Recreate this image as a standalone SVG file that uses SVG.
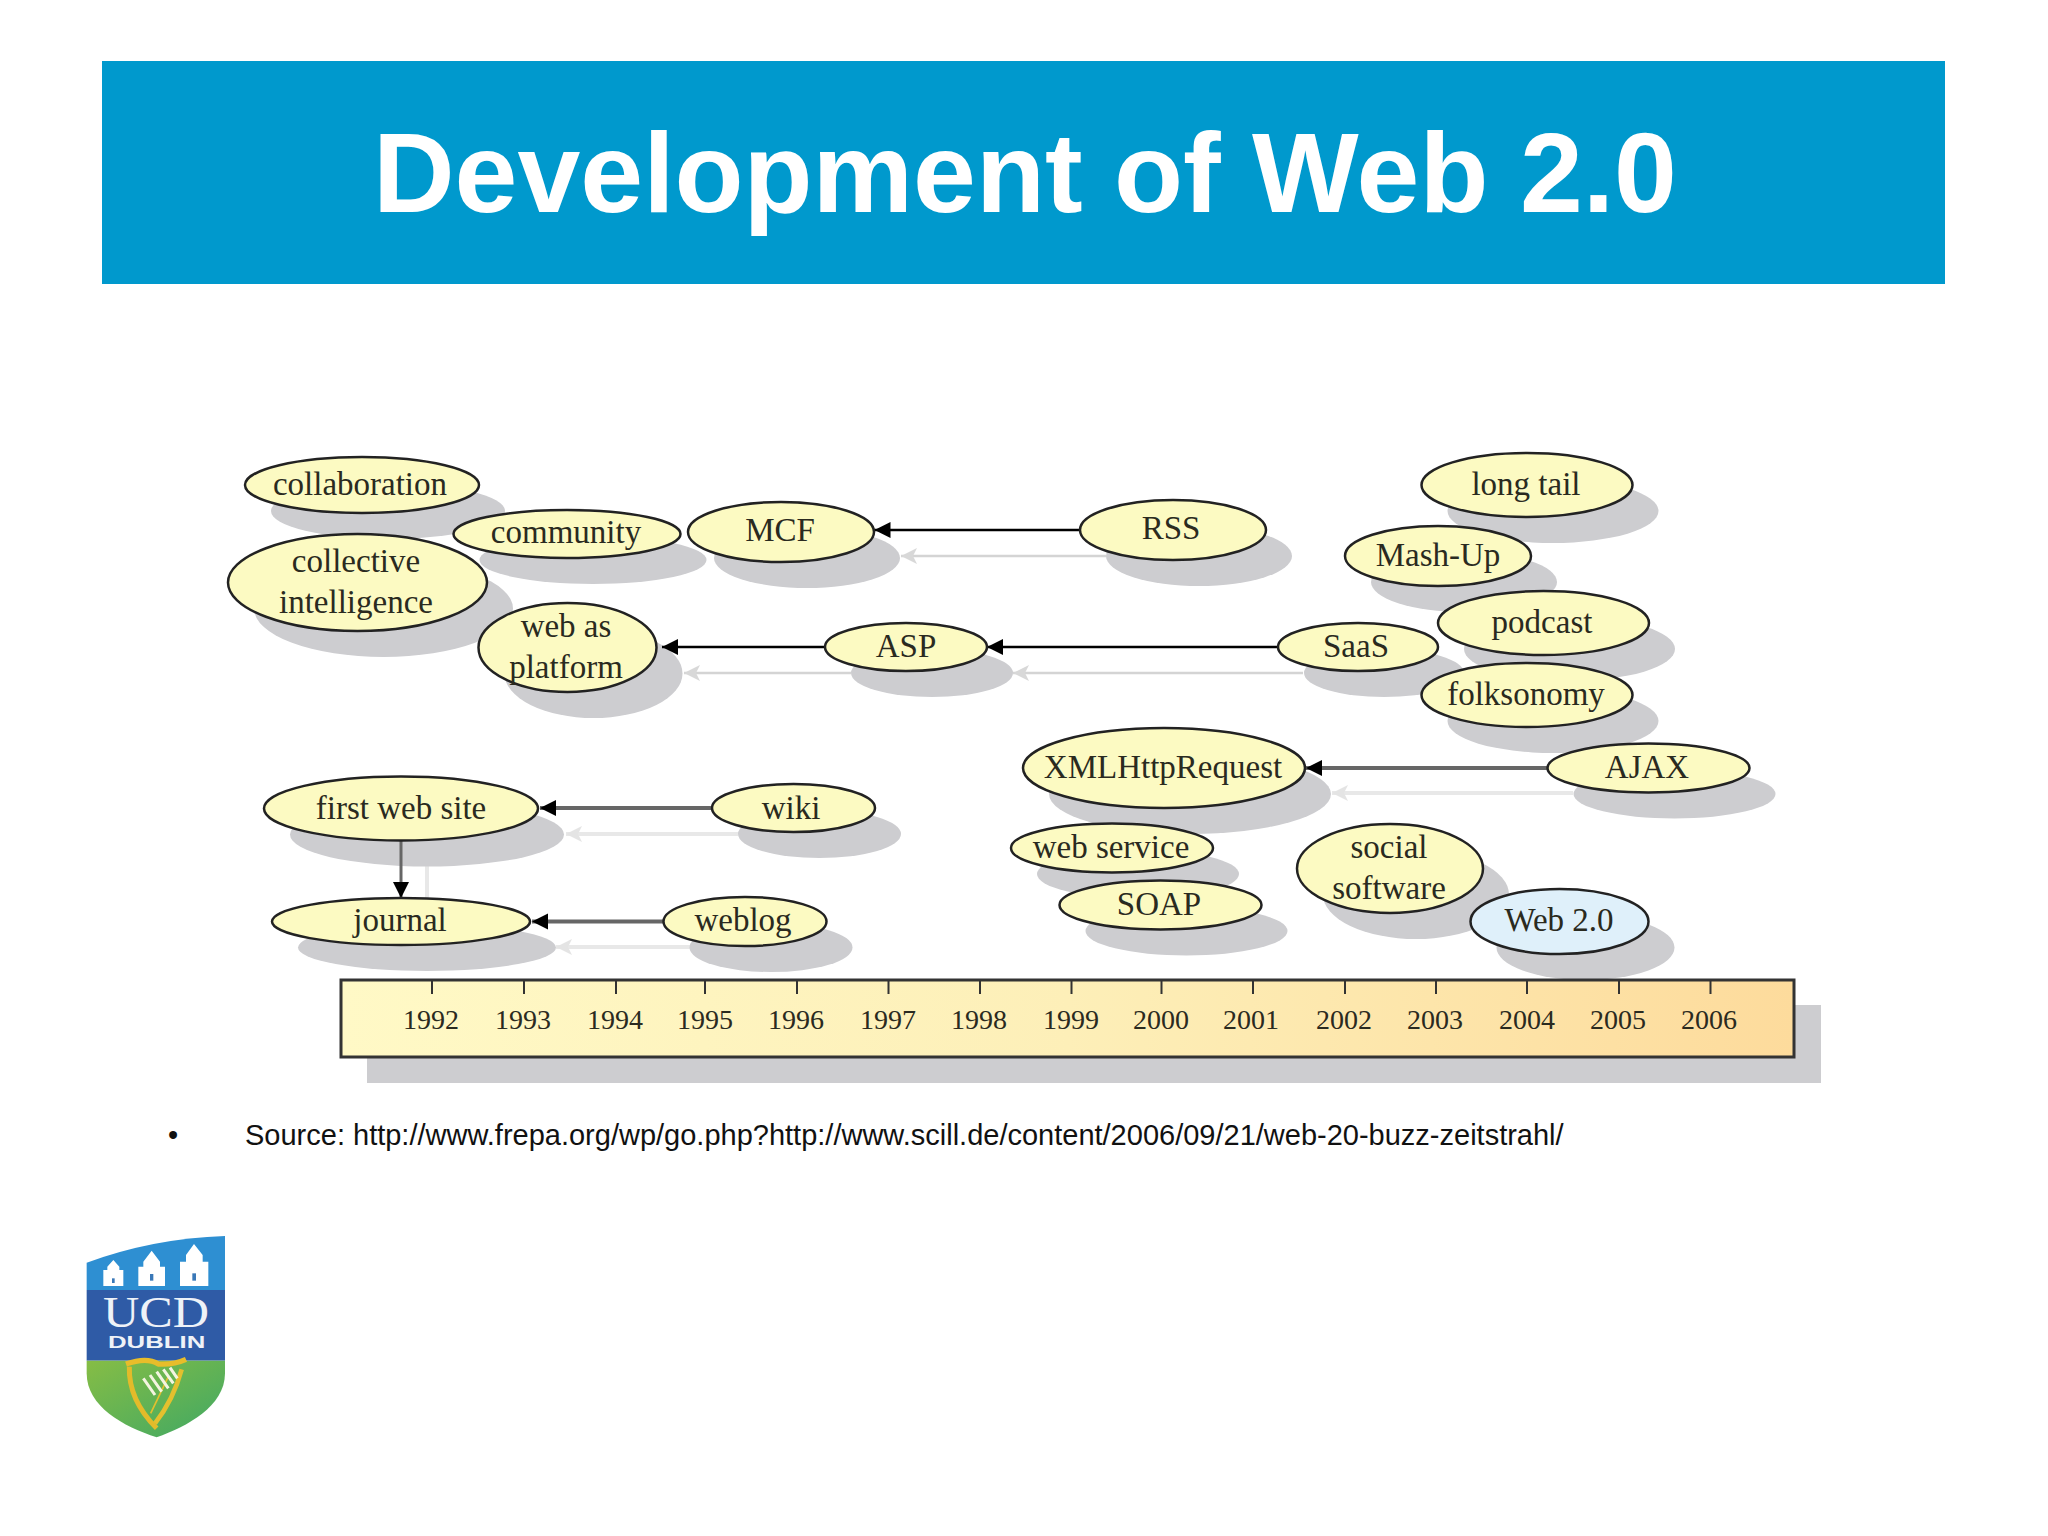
<svg xmlns="http://www.w3.org/2000/svg" width="2048" height="1536" viewBox="0 0 2048 1536">
<style>
.n{fill:#fcfac2;stroke:#222;stroke-width:2.5}
.b{fill:#dff0fa}
.s{fill:#cdcdd0}
.t{font-family:"Liberation Serif","Times New Roman",serif;font-size:33px;fill:#2a2a20;text-anchor:middle}
.y{font-size:28px}
.l{stroke-width:3;fill:none}
.k{stroke:#000;stroke-width:2.5}
.g{stroke:#666;stroke-width:4}
.p{stroke:#d4d4d4;stroke-width:2.5}
.q{stroke:#e8e8e8;stroke-width:4}
</style>
<defs>
<marker id="ak" markerUnits="userSpaceOnUse" markerWidth="18" markerHeight="18" refX="16" refY="9" orient="auto"><path d="M0,1 L16,9 L0,17 Z" fill="#000"/></marker>
<marker id="ap" markerUnits="userSpaceOnUse" markerWidth="18" markerHeight="18" refX="16" refY="9" orient="auto"><path d="M0,1 L16,9 L0,17 L4,9 Z" fill="#d8d8d8"/></marker>
<marker id="aq" markerUnits="userSpaceOnUse" markerWidth="18" markerHeight="18" refX="16" refY="9" orient="auto"><path d="M0,1 L16,9 L0,17 L4,9 Z" fill="#e4e4e4"/></marker>
<linearGradient id="tl" x1="0" x2="1" y1="0" y2="0"><stop offset="0" stop-color="#fff9c6"/><stop offset=".5" stop-color="#fdefb8"/><stop offset="1" stop-color="#fddb9c"/></linearGradient>
<linearGradient id="gr" x1="0" x2="1" y1="0" y2="1"><stop offset="0" stop-color="#86bd45"/><stop offset="1" stop-color="#3fa864"/></linearGradient>
<filter id="soft"><feGaussianBlur stdDeviation="1.5"/></filter>
</defs>
<rect width="2048" height="1536" fill="#fff"/>
<g id="header"><rect x="102" y="61" width="1843" height="223" fill="#0099cd"/>
<text x="1025" y="212" font-family="'Liberation Sans',Arial,sans-serif" font-weight="700" font-size="113" fill="#fff" text-anchor="middle">Development of Web 2.0</text></g>
<g id="connector-shadows" class="l">
<path class="p" d="M1106,556H901" marker-end="url(#ap)"/>
<path class="p" d="M851,673H684" marker-end="url(#ap)"/>
<path class="p" d="M1303,673H1013" marker-end="url(#ap)"/>
<path class="q" d="M1573,793H1332" marker-end="url(#aq)"/>
<path class="q" d="M738,834H566" marker-end="url(#aq)"/>
<path class="q" d="M690,947H556" marker-end="url(#aq)"/>
<path class="q" d="M427,866V900"/>
</g>
<g id="shadows" class="s">
<ellipse cx="388" cy="511" rx="117" ry="28"/><ellipse cx="593" cy="560" rx="113.5" ry="24"/><ellipse cx="807" cy="558" rx="93" ry="30"/><ellipse cx="1199" cy="556" rx="93" ry="30"/><ellipse cx="383.5" cy="608.5" rx="129.5" ry="48.5"/><ellipse cx="593.5" cy="673.5" rx="89" ry="44.5"/><ellipse cx="932" cy="673" rx="81" ry="24"/><ellipse cx="1384" cy="673" rx="80" ry="24"/><ellipse cx="1553" cy="511" rx="105.5" ry="32"/><ellipse cx="1464" cy="582" rx="93" ry="30"/><ellipse cx="1569.5" cy="649" rx="105.5" ry="32"/><ellipse cx="1553" cy="721" rx="105.5" ry="32"/><ellipse cx="1190" cy="794" rx="141" ry="40"/><ellipse cx="1674.5" cy="794" rx="101" ry="24.5"/><ellipse cx="427" cy="834.5" rx="137" ry="32"/><ellipse cx="819.5" cy="834" rx="81.5" ry="24"/><ellipse cx="427" cy="947.5" rx="129" ry="23.5"/><ellipse cx="771" cy="947.5" rx="81.5" ry="24.5"/><ellipse cx="1138" cy="874" rx="101" ry="24.5"/><ellipse cx="1186.5" cy="931" rx="101" ry="24.5"/><ellipse cx="1416" cy="894.5" rx="93" ry="44.5"/><ellipse cx="1585.5" cy="947.5" rx="89" ry="32.5"/>
<rect x="367" y="1005" width="1454" height="78"/>
</g>
<g id="connectors" class="l">
<path class="k" d="M1080,530H874.5" marker-end="url(#ak)"/>
<path class="k" d="M825,647H662" marker-end="url(#ak)"/>
<path class="k" d="M1278,647H987" marker-end="url(#ak)"/>
<path class="g" d="M1548,768H1306" marker-end="url(#ak)"/>
<path class="g" d="M712,808H540" marker-end="url(#ak)"/>
<path class="g" d="M664,921.5H532" marker-end="url(#ak)"/>
<path class="g" style="stroke-width:3" d="M401,840V898" marker-end="url(#ak)"/>
</g>
<g id="collaboration"><ellipse class="n" cx="362" cy="485" rx="117" ry="28"/><text class="t" x="360" y="495">collaboration</text></g>
<g id="community"><ellipse class="n" cx="567" cy="534" rx="113.5" ry="24"/><text class="t" x="566" y="543">community</text></g>
<g id="mcf"><ellipse class="n" cx="781" cy="532" rx="93" ry="30"/><text class="t" x="780" y="541">MCF</text></g>
<g id="rss"><ellipse class="n" cx="1173" cy="530" rx="93" ry="30"/><text class="t" x="1171" y="539">RSS</text></g>
<g id="collective-intelligence"><ellipse class="n" cx="357.5" cy="582.5" rx="129.5" ry="48.5"/><text class="t" x="356" y="572">collective</text><text class="t" x="356" y="613">intelligence</text></g>
<g id="web-as-platform"><ellipse class="n" cx="567.5" cy="647.5" rx="89" ry="44.5"/><text class="t" x="566" y="637">web as</text><text class="t" x="566" y="678">platform</text></g>
<g id="asp"><ellipse class="n" cx="906" cy="647" rx="81" ry="24"/><text class="t" x="906" y="657">ASP</text></g>
<g id="saas"><ellipse class="n" cx="1358" cy="647" rx="80" ry="24"/><text class="t" x="1356" y="657">SaaS</text></g>
<g id="long-tail"><ellipse class="n" cx="1527" cy="485" rx="105.5" ry="32"/><text class="t" x="1526" y="495">long tail</text></g>
<g id="mash-up"><ellipse class="n" cx="1438" cy="556" rx="93" ry="30"/><text class="t" x="1438" y="566">Mash-Up</text></g>
<g id="podcast"><ellipse class="n" cx="1543.5" cy="623" rx="105.5" ry="32"/><text class="t" x="1542" y="633">podcast</text></g>
<g id="folksonomy"><ellipse class="n" cx="1527" cy="695" rx="105.5" ry="32"/><text class="t" x="1526" y="705">folksonomy</text></g>
<g id="xmlhttprequest"><ellipse class="n" cx="1164" cy="768" rx="141" ry="40"/><text class="t" x="1163" y="778">XMLHttpRequest</text></g>
<g id="ajax"><ellipse class="n" cx="1648.5" cy="768" rx="101" ry="24.5"/><text class="t" x="1647" y="778">AJAX</text></g>
<g id="first-web-site"><ellipse class="n" cx="401" cy="808.5" rx="137" ry="32"/><text class="t" x="401" y="819">first web site</text></g>
<g id="wiki"><ellipse class="n" cx="793.5" cy="808" rx="81.5" ry="24"/><text class="t" x="791" y="819">wiki</text></g>
<g id="journal"><ellipse class="n" cx="401" cy="921.5" rx="129" ry="23.5"/><text class="t" x="400" y="931">journal</text></g>
<g id="weblog"><ellipse class="n" cx="745" cy="921.5" rx="81.5" ry="24.5"/><text class="t" x="743" y="931">weblog</text></g>
<g id="web-service"><ellipse class="n" cx="1112" cy="848" rx="101" ry="24.5"/><text class="t" x="1111" y="858">web service</text></g>
<g id="soap"><ellipse class="n" cx="1160.5" cy="905" rx="101" ry="24.5"/><text class="t" x="1159" y="915">SOAP</text></g>
<g id="social-software"><ellipse class="n" cx="1390" cy="868.5" rx="93" ry="44.5"/><text class="t" x="1389" y="858">social</text><text class="t" x="1389" y="899">software</text></g>
<g id="web-2-0"><ellipse class="n b" cx="1559.5" cy="921.5" rx="89" ry="32.5"/><text class="t" x="1559" y="931">Web 2.0</text></g>
<g id="timeline">
<rect x="341" y="980" width="1453" height="77" fill="url(#tl)" stroke="#333" stroke-width="3"/>
<path d="M432,980v14M524,980v14M616,980v14M705,980v14M797,980v14M888.5,980v14M980,980v14M1071.5,980v14M1161.5,980v14M1253,980v14M1345,980v14M1436,980v14M1527,980v14M1619,980v14M1710.5,980v14" stroke="#333" stroke-width="2" fill="none"/>
<g class="t y"><text x="431" y="1029">1992</text><text x="523" y="1029">1993</text><text x="615" y="1029">1994</text><text x="705" y="1029">1995</text><text x="796" y="1029">1996</text><text x="888" y="1029">1997</text><text x="979" y="1029">1998</text><text x="1071" y="1029">1999</text><text x="1161" y="1029">2000</text><text x="1251" y="1029">2001</text><text x="1344" y="1029">2002</text><text x="1435" y="1029">2003</text><text x="1527" y="1029">2004</text><text x="1618" y="1029">2005</text><text x="1709" y="1029">2006</text></g>
</g>
<g id="source" font-family="'Liberation Sans',Arial,sans-serif" font-size="29" fill="#111"><text x="168" y="1145">•</text><text x="245" y="1145">Source: http://www.frepa.org/wp/go.php?http://www.scill.de/content/2006/09/21/web-20-buzz-zeitstrahl/</text></g>
<g id="logo" transform="translate(60,1210) scale(.33333)">
<path d="M80,158Q280,85 495,78V240H80Z" fill="#2e8fd2"/>
<rect x="80" y="240" width="415" height="212" fill="#2f5ba6"/>
<path d="M80,452H495V490C495,590 380,650 290,682C190,650 80,590 80,490Z" fill="url(#gr)"/>
<g fill="#fff"><path d="M130,228V180H142V170L160,150L178,170V180H190V228Z"/><path d="M235,228V170H250V155L275,122L300,155V170H315V228Z"/><path d="M360,228V155H378V135L402,102L428,135V155H445V228Z"/></g>
<g fill="#3a78b8"><rect x="156" y="205" width="8" height="14"/><rect x="270" y="192" width="10" height="20"/><rect x="397" y="190" width="11" height="22"/></g>
<text x="288" y="352" font-family="'Liberation Serif',serif" font-size="130" fill="#eef2f8" text-anchor="middle" textLength="318" lengthAdjust="spacingAndGlyphs">UCD</text>
<text x="290" y="415" font-family="'Liberation Sans',sans-serif" font-weight="700" font-size="52" fill="#eef2f8" text-anchor="middle" textLength="292" lengthAdjust="spacingAndGlyphs">DUBLIN</text>
<path d="M198,462Q260,440 295,462Q340,465 378,448" stroke="#e8bd2a" stroke-width="16" fill="none"/>
<path d="M208,470Q205,570 290,655" stroke="#e3bb2a" stroke-width="15" fill="none"/>
<path d="M365,478Q340,570 285,640" stroke="#e3c02e" stroke-width="14" fill="none"/>
<path d="M325,500L272,610" stroke="#e3c02e" stroke-width="5" fill="none"/>
<path d="M250,505L285,555M270,495L305,545M290,485L325,535M310,478L340,520M330,473L352,505" stroke="#f4f4e0" stroke-width="9" fill="none"/>
</g>
</svg>
